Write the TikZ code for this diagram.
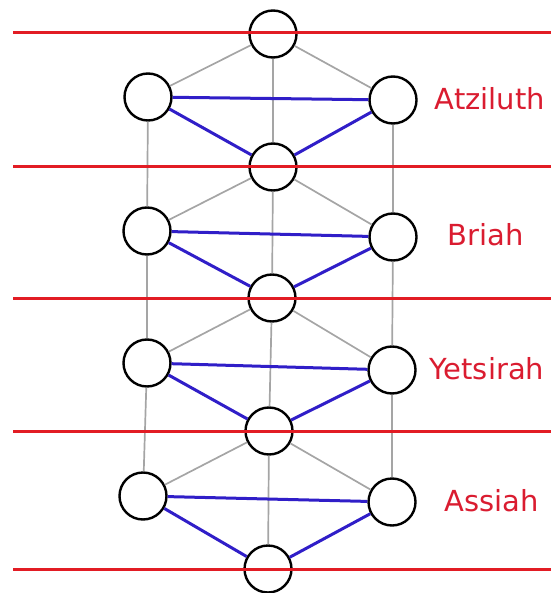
\documentclass[tikz,border=0pt]{standalone}
\usepackage{fontspec}
\setmainfont{DejaVu Sans}
\definecolor{redline}{RGB}{226,28,36}
\definecolor{redtext}{RGB}{218,28,48}
\definecolor{blueline}{RGB}{48,30,200}
\definecolor{grayline}{RGB}{165,165,165}
\begin{document}
\begin{tikzpicture}[x=1pt,y=-1pt,
  sefira/.style={circle,draw=black,line width=2.4pt,minimum size=47pt,inner sep=0pt,fill=white},
  grayedge/.style={draw=grayline,line width=1.7pt},
  blueedge/.style={draw=blueline,line width=3pt},
  redband/.style={draw=redline,line width=3pt},
  world/.style={text=redtext,font=\fontsize{29}{29}\selectfont,inner sep=0pt,anchor=center}]
\useasboundingbox (0,0) rectangle (551,593);
% nodes
\node[sefira] (t)  at (273,34) {};
\node[sefira] (a1) at (148,97) {};
\node[sefira] (a2) at (393,100) {};
\node[sefira] (m2) at (273,167) {};
\node[sefira] (b1) at (147,231) {};
\node[sefira] (b2) at (393,237) {};
\node[sefira] (m3) at (272,298) {};
\node[sefira] (y1) at (147,363) {};
\node[sefira] (y2) at (392,370) {};
\node[sefira] (m4) at (269,431) {};
\node[sefira] (s1) at (143,496) {};
\node[sefira] (s2) at (392,502) {};
\node[sefira] (m5) at (268,569) {};
% gray connectors
\draw[grayedge] (t) -- (a1);
\draw[grayedge] (t) -- (a2);
\draw[grayedge] (t) -- (m2);
\draw[grayedge] (m2) -- (b1);
\draw[grayedge] (m2) -- (b2);
\draw[grayedge] (m2) -- (m3);
\draw[grayedge] (m3) -- (y1);
\draw[grayedge] (m3) -- (y2);
\draw[grayedge] (m3) -- (m4);
\draw[grayedge] (m4) -- (s1);
\draw[grayedge] (m4) -- (s2);
\draw[grayedge] (m4) -- (m5);
\draw[grayedge] (a1) -- (b1);
\draw[grayedge] (b1) -- (y1);
\draw[grayedge] (y1) -- (s1);
\draw[grayedge] (a2) -- (b2);
\draw[grayedge] (b2) -- (y2);
\draw[grayedge] (y2) -- (s2);
% blue connectors
\draw[blueedge] (a1) -- (a2);
\draw[blueedge] (a1) -- (m2);
\draw[blueedge] (a2) -- (m2);
\draw[blueedge] (b1) -- (b2);
\draw[blueedge] (b1) -- (m3);
\draw[blueedge] (b2) -- (m3);
\draw[blueedge] (y1) -- (y2);
\draw[blueedge] (y1) -- (m4);
\draw[blueedge] (y2) -- (m4);
\draw[blueedge] (s1) -- (s2);
\draw[blueedge] (s1) -- (m5);
\draw[blueedge] (s2) -- (m5);
% red horizontal bands
\coordinate (r1l) at (13,33);  \coordinate (r1r) at (551,33);
\coordinate (r2l) at (13,167); \coordinate (r2r) at (551,167);
\coordinate (r3l) at (13,298); \coordinate (r3r) at (551,298);
\coordinate (r4l) at (13,431); \coordinate (r4r) at (551,431);
\coordinate (r5l) at (13,569); \coordinate (r5r) at (551,569);
\draw[redband] (r1l) -- (r1r);
\draw[redband] (r2l) -- (r2r);
\draw[redband] (r3l) -- (r3r);
\draw[redband] (r4l) -- (r4r);
\draw[redband] (r5l) -- (r5r);
% labels
\node[world] (la) at (490,99) {Atziluth};
\node[world] (lb) at (486,235) {Briah};
\node[world] (ly) at (487,369) {Yetsirah};
\node[world] (ls) at (492,501) {Assiah};
\end{tikzpicture}
\end{document}
